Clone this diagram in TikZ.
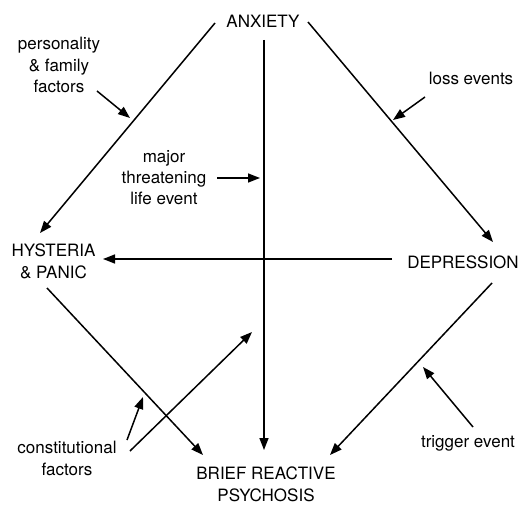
\documentclass[tikz,border=0pt]{standalone}
\usepackage{fontspec}
\setmainfont{TeX Gyre Heros}
\usetikzlibrary{arrows.meta}
\begin{document}
\begin{tikzpicture}[x=1pt,y=-1pt,
  lbl/.style={inner sep=0pt,align=center,anchor=base,font=\fontsize{17}{21.5}\selectfont},
  conn/.style={line width=1.5pt,-{Triangle[length=12pt,width=9pt]}}]
\useasboundingbox (0,0) rectangle (522,505);
% labels (base anchor = baseline of the last line)
\node[lbl] (anx) at (263,28) {ANXIETY};
\node[lbl] (hys) at (53.5,278) {HYSTERIA\\\& PANIC};
\node[lbl] (dep) at (463,268) {DEPRESSION};
\node[lbl] (brp) at (266,501) {BRIEF REACTIVE\\PSYCHOSIS};
\node[lbl] (pers) at (59,93) {personality\\\& family\\factors};
\node[lbl] (loss) at (471,85) {loss events};
\node[lbl] (major) at (164,205) {major\\threatening\\life event};
\node[lbl] (const) at (67,475) {constitutional\\factors};
\node[lbl] (trig) at (468,447) {trigger event};
% connector end points
\coordinate (a1s) at (215,23);  \coordinate (a1e) at (40,233);
\coordinate (a2s) at (308,22);  \coordinate (a2e) at (493,242);
\coordinate (vs) at (264,40);   \coordinate (ve) at (264,450);
\coordinate (hs) at (392,259);  \coordinate (he) at (103,259);
\coordinate (hbs) at (47,288);  \coordinate (hbe) at (203,455);
\coordinate (dbs) at (492,283); \coordinate (dbe) at (330,455);
\coordinate (cfs) at (130,451); \coordinate (cfe) at (252,332);
\coordinate (cas) at (127,440); \coordinate (cae) at (143,397);
\coordinate (pfs) at (97,91);   \coordinate (pfe) at (130,118);
\coordinate (les) at (425,97);  \coordinate (lee) at (393,120);
\coordinate (mts) at (217,178); \coordinate (mte) at (260,178);
\coordinate (tes) at (473,427); \coordinate (tee) at (423,367);
% connectors
\draw[conn] (a1s) -- (a1e);
\draw[conn] (a2s) -- (a2e);
\draw[conn] (vs) -- (ve);
\draw[conn] (hs) -- (he);
\draw[conn] (hbs) -- (hbe);
\draw[conn] (dbs) -- (dbe);
\draw[conn] (cfs) -- (cfe);
\draw[conn] (cas) -- (cae);
\draw[conn] (pfs) -- (pfe);
\draw[conn] (les) -- (lee);
\draw[conn] (mts) -- (mte);
\draw[conn] (tes) -- (tee);
\end{tikzpicture}
\end{document}
